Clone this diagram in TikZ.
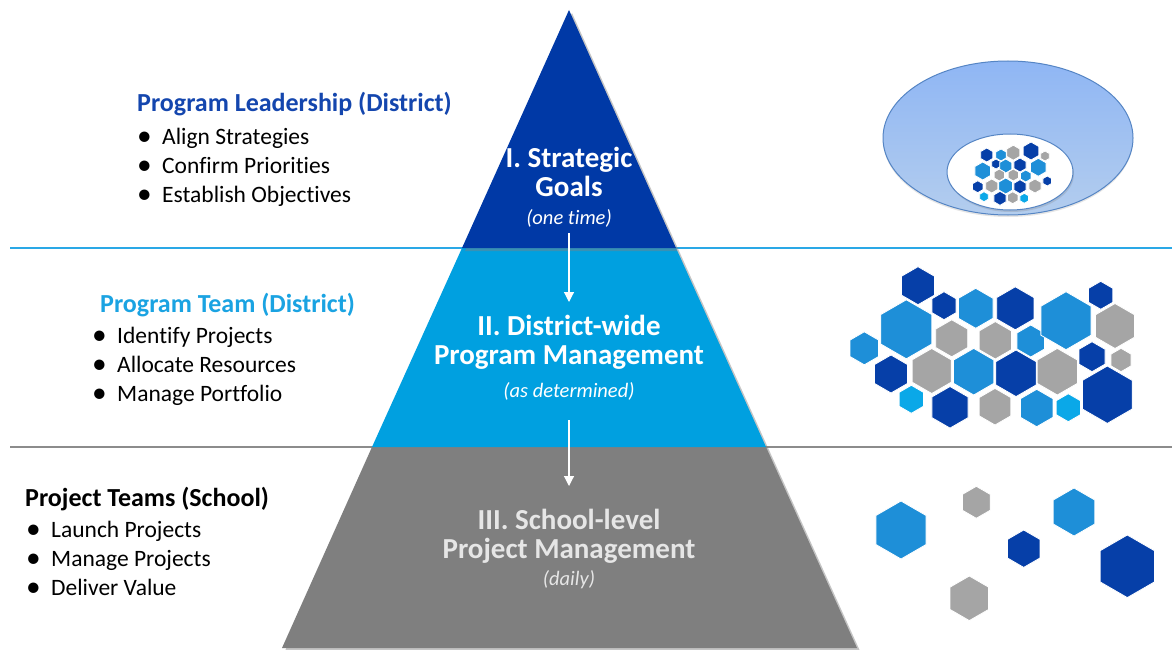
\documentclass[tikz,border=0pt]{standalone}
\usepackage{fontspec}
\setmainfont[Ligatures={NoCommon}]{Carlito}
\usetikzlibrary{shadows,arrows.meta}
\definecolor{tierA}{HTML}{0039A6}
\definecolor{tierB}{HTML}{00A0E0}
\definecolor{tierC}{HTML}{7F7F7F}
\definecolor{hexD}{HTML}{063FA8}
\definecolor{hexM}{HTML}{1E8FD8}
\definecolor{hexL}{HTML}{0AA8E8}
\definecolor{hexG}{HTML}{A5A5A5}
\definecolor{headA}{HTML}{1446AE}
\definecolor{headB}{HTML}{1AA3E2}
\definecolor{lineB}{HTML}{2AA8E6}
\definecolor{lineG}{HTML}{8C8C8C}
\definecolor{paleTxt}{HTML}{E6E6E6}
\definecolor{ellTop}{HTML}{8FB6F4}
\definecolor{ellBot}{HTML}{B3CDEE}
\definecolor{ellEdge}{HTML}{5585C4}
\newcommand{\hexg}[4]{\fill[#4, draw=white, line width=0.8] (#1,#2) +(90:#3) -- +(30:#3) -- +(-30:#3) -- +(-90:#3) -- +(-150:#3) -- +(150:#3) -- cycle;}
\tikzset{
  ttl/.style={font=\fontsize{29}{29}\selectfont\bfseries, text=white, align=center, inner sep=0},
  subt/.style={font=\fontsize{20.5}{22}\selectfont\itshape, text=white, inner sep=0},
  hd/.style={font=\fontsize{26}{28}\selectfont\bfseries, anchor=west, inner sep=0, text height=18pt, text depth=6pt},
  bul/.style={font=\fontsize{23.5}{26}\selectfont, anchor=west, inner sep=0, text height=17pt, text depth=5pt},
  arr/.style={draw=white, line width=1.2pt, -{Triangle[length=10pt,width=10pt]}},
  tshadow/.style={drop shadow={shadow xshift=3pt, shadow yshift=-3pt, opacity=0.45}}
}
\newcommand{\bitem}[1]{\makebox[25pt][l]{\raisebox{-1.3pt}{\scalebox{1.25}{\textbullet}}}#1}
\begin{document}
\begin{tikzpicture}[x=1pt, y=-1pt]
\useasboundingbox (0,0) rectangle (1172,650);
\fill[white] (0,0) rectangle (1172,650);

% separator lines
\draw[lineB, line width=2pt] (10,248) -- (1172,248);
\draw[lineG, line width=2pt] (10,447) -- (1172,447);

% pyramid
\fill[tierC, tshadow] (372,447) -- (766,447) -- (857,648) -- (282,648) -- cycle;
\fill[tierB, tshadow] (462,248) -- (676,248) -- (766,447) -- (372,447) -- cycle;
\fill[tierA, tshadow] (569,10) -- (676,248) -- (462,248) -- cycle;

% pyramid texts
\node[ttl] (t1) at (569,172) {I. Strategic\\Goals};
\node[subt] (s1) at (569,218) {(one time)};
\node[ttl] (t2) at (569,342) {II. District-wide\\Program Management};
\node[subt] (s2) at (569,391) {(as determined)};
\node[ttl, text=paleTxt] (t3) at (569,536) {III. School-level\\Project Management};
\node[subt, text=paleTxt] (s3) at (569,580) {(daily)};

% arrows
\coordinate (a1s) at (569,233);
\coordinate (a1e) at (569,302);
\coordinate (a2s) at (569,420);
\coordinate (a2e) at (569,486);
\draw[arr] (a1s) -- (a1e);
\draw[arr] (a2s) -- (a2e);

% left texts
\node[hd, text=headA] (h1) at (137,106) {Program Leadership (District)};
\node[bul] (b11) at (137,138) {\bitem{Align Strategies}};
\node[bul] (b12) at (137,167) {\bitem{Confirm Priorities}};
\node[bul] (b13) at (137,196) {\bitem{Establish Objectives}};

\node[hd, text=headB] (h2) at (100,306) {Program Team (District)};
\node[bul] (b21) at (92,337) {\bitem{Identify Projects}};
\node[bul] (b22) at (92,366) {\bitem{Allocate Resources}};
\node[bul] (b23) at (92,395) {\bitem{Manage Portfolio}};

\node[hd, text=black] (h3) at (25,500) {Project Teams (School)};
\node[bul] (b31) at (26,531) {\bitem{Launch Projects}};
\node[bul] (b32) at (26,560) {\bitem{Manage Projects}};
\node[bul] (b33) at (26,589) {\bitem{Deliver Value}};

% ellipse group
\shade[top color=ellTop, bottom color=ellBot, draw=ellEdge, line width=1pt, drop shadow={shadow xshift=0pt, shadow yshift=-2pt, opacity=0.2}] (1008,138) ellipse [x radius=125, y radius=77];
\fill[white, draw=ellEdge, line width=1pt, drop shadow={shadow xshift=1pt, shadow yshift=-2pt, opacity=0.25}] (1010,172) ellipse [x radius=63, y radius=38];
\hexg{986.7}{155}{7}{hexD}
\hexg{1001}{155}{6}{hexM}
\hexg{1013.3}{152.7}{7.5}{hexG}
\hexg{1031}{151}{9}{hexD}
\hexg{1045}{156}{5}{hexG}
\hexg{996}{164}{5}{hexD}
\hexg{982.7}{171}{9}{hexM}
\hexg{1005.7}{166}{7}{hexM}
\hexg{1020}{165}{7}{hexD}
\hexg{1038.3}{167.3}{9}{hexM}
\hexg{999.3}{175}{6}{hexG}
\hexg{1013.3}{175}{6}{hexG}
\hexg{1025.7}{176}{6}{hexM}
\hexg{977.7}{186.7}{6}{hexD}
\hexg{991.7}{186}{7}{hexG}
\hexg{1005.7}{186}{8}{hexM}
\hexg{1020}{186.7}{7}{hexD}
\hexg{1035}{186}{7}{hexG}
\hexg{1047.3}{181}{5}{hexD}
\hexg{984}{196.7}{5}{hexL}
\hexg{1000}{198.3}{7}{hexD}
\hexg{1012.7}{197.7}{6}{hexG}
\hexg{1024.3}{198.3}{5}{hexL}

% middle hexagon cluster
\hexg{918}{285.7}{19}{hexD}
\hexg{944}{305.7}{14}{hexD}
\hexg{975.7}{308.3}{20}{hexM}
\hexg{1015.3}{308.3}{21.5}{hexD}
\hexg{1100.7}{295.3}{14}{hexD}
\hexg{1030.7}{341}{16}{hexM}
\hexg{1066}{320.7}{29}{hexM}
\hexg{906.3}{329.3}{29.5}{hexM}
\hexg{864.3}{348.3}{16.5}{hexM}
\hexg{951.7}{338.3}{18.5}{hexG}
\hexg{995.3}{340.3}{18.7}{hexG}
\hexg{1115}{326}{22.5}{hexG}
\hexg{891}{374}{19}{hexD}
\hexg{931.7}{371}{22.5}{hexG}
\hexg{973.7}{371.7}{23.3}{hexM}
\hexg{1016}{373.3}{23.3}{hexD}
\hexg{1057.3}{371.7}{23.3}{hexG}
\hexg{1092}{356.7}{15}{hexD}
\hexg{1121}{360}{11.7}{hexG}
\hexg{1107.3}{394.7}{28.7}{hexD}
\hexg{911.3}{399.3}{14}{hexL}
\hexg{950}{407.3}{20.8}{hexD}
\hexg{995}{406.7}{18.3}{hexG}
\hexg{1036.7}{408}{18.7}{hexM}
\hexg{1068.3}{407.7}{14}{hexL}

% lower hexagons
\hexg{901}{530}{29}{hexM}
\hexg{976.3}{502.3}{16}{hexG}
\hexg{1074}{512}{24}{hexM}
\hexg{1023.7}{548.7}{18.7}{hexD}
\hexg{1127.3}{566.3}{31.3}{hexD}
\hexg{969.3}{598.3}{22.3}{hexG}
\end{tikzpicture}
\end{document}
